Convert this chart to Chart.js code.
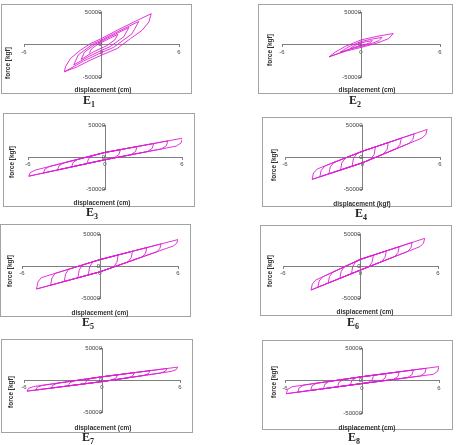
<!DOCTYPE html>
<html>
<head>
<meta charset="utf-8">
<script src="https://cdn.jsdelivr.net/npm/chart.js@4.4.1/dist/chart.umd.min.js"></script>
<style>
  body { margin: 0; background: #fff; width: 459px; height: 445px; position: relative; overflow: hidden; }
  .frame { position: absolute; border: 1px solid #a3a3a3; box-sizing: border-box; pointer-events: none; }
  canvas { position: absolute; }
  .xt, .yt { position: absolute; font-family: 'Liberation Sans', Arial, sans-serif; font-size: 6.5px; font-weight: bold; color: #333; white-space: nowrap; }
  .xt { transform: translate(-50%, -50%); }
  .yt { transform: translate(-50%, -50%) rotate(-90deg); }
  .cap { position: absolute; transform: translate(-50%, -50%); font-family: 'Liberation Serif', 'Times New Roman', serif; font-weight: bold; font-size: 12px; color: #222; white-space: nowrap; }
  .cap sub { font-size: 8px; }
</style>
</head>
<body>
<script>
// panels and axis labels
const panelNames = ['E1', 'E2', 'E3', 'E4', 'E5', 'E6', 'E7', 'E8'];
const xTitles = ['displacement (cm)', 'displacement (cm)', 'displacement (cm)', 'displacement (kgf)',
                 'displacement (cm)', 'displacement (cm)', 'displacement (cm)', 'displacement (cm)'];
const yTitle = 'force [kgf]';
const xTicks = [-6, 0, 6];
const yTicks = [-50000, 0, 50000];

const e1Disp = [-0.95, -0.79, -0.28, 0, 0.4, 1.27, 1.04, 0.4, 0, -0.62,
                -1.58, -1.32, -0.47, 0, 0.67, 2.12, 1.73, 0.67, 0, -1.03,
                -2.15, -1.8, -0.64, 0, 0.92, 2.89, 2.36, 0.92, 0, -1.41,
                -2.87, -2.79, -2.4, -1.63, -0.85, 0, 1.22, 2.77, 3.85, 3.67, 3.15, 2.25, 1.22, 0, -0.85, -1.88, -2.87];
const e1Force = [-13800, -7060, 500, 3040, 7230, 15640, 7230, -2010, -5410, -11300,
                 -23000, -11800, 830, 5060, 12000, 26100, 12000, -3360, -9000, -18900,
                 -31400, -16050, 1130, 6900, 16400, 35550, 16400, -4580, -12300, -25700,
                 -41900, -34300, -21400, -8700, 1500, 9200, 21900, 37200, 47400, 34600, 21900, 9200, -6100, -16400, -24000, -34300, -41900];

const e2Disp = [-0.85, -0.67, -0.42, 0, 0.42, 0.86, 0.74, 0.42, 0, -0.42,
                -1.6, -1.23, -0.78, 0, 0.78, 1.6, 1.37, 0.78, 0, -0.78,
                -2.42, -1.9, -1.2, 0, 1.2, 2.45, 2.1, 1.2, 0, -1.2, -2.42];
const e2Force = [-6600, -3850, -1050, 2450, 4400, 5900, 3150, 700, -1600, -3700,
                 -12300, -7150, -1950, 4550, 8100, 11000, 5850, 1300, -2900, -6800,
                 -18900, -11000, -3000, 7000, 12500, 16900, 9000, 2000, -4500, -10500, -18900];

const e3Disp = [-1.4, -1.28, -0.9, 0, 1.2, 1.08, 0.7, 0,
                -2.6, -2.48, -2.1, 0, 2.5, 2.38, 2.0, 0,
                -3.7, -3.58, -3.2, 0, 3.8, 3.68, 3.3, 0,
                -4.8, -4.68, -4.3, 0, 4.9, 4.78, 4.4, 0,
                -5.94, -5.82, -5.44, 0, 6.05, 5.93, 5.55, 0, -5.94];
const e3Force = [-10300, -2600, 2500, 7100, 11500, 3700, -1500, -4200,
                 -15500, -8300, -3500, 7100, 16300, 8600, 3400, -4200,
                 -20300, -13600, -9100, 7100, 21100, 13500, 8400, -4200,
                 -25000, -18800, -14700, 7100, 25200, 17600, 12600, -4200,
                 -30000, -24300, -20500, 7100, 29400, 22000, 17000, -4200, -30000];

const e4Disp = [-0.8, -0.7, -0.4, 0, 1.0, 0.9, 0.6, 0,
                -1.7, -1.6, -1.3, 0, 2.0, 1.9, 1.6, 0,
                -2.6, -2.5, -2.2, 0, 3.0, 2.9, 2.6, 0,
                -3.3, -3.2, -2.9, 0, 4.0, 3.9, 3.6, 0,
                -3.9, -3.8, -3.5, 0, 5.0, 4.9, 4.6, 0, -3.9];
const e4Force = [-14300, -2200, 5800, 9000, 15800, 3900, -4000, -9000,
                 -20300, -8900, -1300, 9000, 22600, 11700, 4400, -9000,
                 -26300, -15600, -8400, 9000, 29400, 19400, 12800, -9000,
                 -31000, -20700, -13900, 9000, 36200, 27200, 21200, -9000,
                 -35000, -25200, -18700, 9000, 43000, 35000, 29600, -9000, -35000];

const e5Disp = [-0.9, -0.8, -0.55, 0, 1.4, 1.3, 1.05, 0,
                -1.7, -1.6, -1.35, 0, 2.5, 2.4, 2.15, 0,
                -2.75, -2.65, -2.4, 0, 3.6, 3.5, 3.25, 0,
                -3.8, -3.7, -3.45, 0, 4.7, 4.6, 4.35, 0,
                -4.88, -4.78, -4.53, 0, 6.0, 5.9, 5.65, 0, -4.88];
const e5Force = [-14000, -1600, 6600, 10000, 17300, 6000, -1600, -9100,
                 -18400, -6400, 1600, 10000, 23000, 13000, 6300, -9100,
                 -24200, -12700, -5000, 10000, 28800, 20000, 14200, -9100,
                 -30000, -18900, -11500, 10000, 34500, 27000, 22000, -9100,
                 -35900, -25300, -18300, 10000, 41300, 35400, 31400, -9100, -35900];

const e6Disp = [-0.7, -0.6, -0.35, 0, 1.0, 0.9, 0.65, 0,
                -1.6, -1.5, -1.25, 0, 2.0, 1.9, 1.65, 0,
                -2.5, -2.4, -2.15, 0, 3.0, 2.9, 2.65, 0,
                -3.3, -3.2, -2.95, 0, 4.0, 3.9, 3.65, 0,
                -3.83, -3.73, -3.48, 0, 4.97, 4.87, 4.62, 0, -3.83];
const e6Force = [-12000, -500, 7100, 10400, 17000, 6100, -1100, -6250,
                 -19300, -8500, -1300, 10400, 23600, 13600, 6900, -6250,
                 -26700, -16500, -9700, 10400, 30200, 21000, 14800, -6250,
                 -33200, -23500, -17100, 10400, 36800, 28300, 22700, -6250,
                 -37500, -28300, -22100, 10400, 43200, 35500, 30400, -6250, -37500];

const e7Disp = [-1.3, -1.18, -0.8, 0, 1.2, 1.08, 0.7, 0,
                -2.6, -2.48, -2.1, 0, 2.5, 2.38, 2.0, 0,
                -3.9, -3.78, -3.4, 0, 3.7, 3.58, 3.2, 0,
                -5.1, -4.98, -4.6, 0, 5.0, 4.88, 4.5, 0,
                -5.77, -5.65, -5.27, 0, 5.82, 5.7, 5.32, 0, -5.77];
const e7Force = [-5900, -700, 2700, 5000, 8100, 3000, -400, -2500,
                 -9200, -4300, -1100, 5000, 11500, 6700, 3500, -2500,
                 -12600, -8000, -4900, 5000, 14600, 10000, 7000, -2500,
                 -15700, -11300, -8400, 5000, 18000, 13700, 10900, -2500,
                 -17400, -13100, -10300, 5000, 20100, 16100, 13400, -2500, -17400];

const e8Disp = [-0.9, -0.8, -0.45, 0, 0.9, 0.8, 0.45, 0,
                -1.9, -1.8, -1.45, 0, 1.9, 1.8, 1.45, 0,
                -3.0, -2.9, -2.55, 0, 2.9, 2.8, 2.45, 0,
                -4.0, -3.9, -3.55, 0, 4.0, 3.9, 3.55, 0,
                -5.0, -4.9, -4.55, 0, 5.0, 4.9, 4.55, 0,
                -5.9, -5.8, -5.45, 0, 6.0, 5.9, 5.55, 0, -5.9];
const e8Force = [-7100, -100, 4500, 5800, 8100, 1100, -3500, -4700,
                 -9700, -2900, 1700, 5800, 10700, 3700, -1000, -4700,
                 -12600, -5900, -1400, 5800, 13300, 6300, 1600, -4700,
                 -15300, -8600, -4200, 5800, 16200, 9100, 4400, -4700,
                 -17900, -11400, -7000, 5800, 18800, 11700, 6900, -4700,
                 -20300, -13900, -9600, 5800, 21400, 14300, 9500, -4700, -20300];

const dispSets = [e1Disp, e2Disp, e3Disp, e4Disp, e5Disp, e6Disp, e7Disp, e8Disp];
const forceSets = [e1Force, e2Force, e3Force, e4Force, e5Force, e6Force, e7Force, e8Force];

// page placement: frame [left, top, w, h], plot padding [l, r, t, b], title / caption centres
const layout = [
  { box: [1, 4, 191, 90],   pad: [23, 13, 8, 17],  xt: [103, 89],  yt: [7, 63],   cap: [89, 101] },
  { box: [258, 4, 195, 90], pad: [24, 13, 8, 17],  xt: [367, 89],  yt: [269, 50], cap: [355, 101] },
  { box: [3, 113, 192, 94], pad: [25, 13, 12, 18], xt: [102, 202], yt: [11, 162], cap: [92, 213] },
  { box: [262, 117, 190, 90], pad: [23, 12, 8, 18], xt: [362, 203], yt: [273, 165], cap: [361, 214] },
  { box: [0, 224, 191, 93], pad: [22, 13, 10, 19], xt: [100, 312], yt: [9, 271],  cap: [88, 323] },
  { box: [260, 225, 192, 91], pad: [23, 14, 9, 18], xt: [365, 311], yt: [269, 271], cap: [353, 323] },
  { box: [1, 339, 192, 94], pad: [23, 13, 9, 21],  xt: [103, 427], yt: [10, 392], cap: [88, 438] },
  { box: [262, 340, 191, 90], pad: [23, 14, 8, 17], xt: [367, 427], yt: [273, 382], cap: [354, 438] }
];

const lineColor = '#dc1fd4';
const axisColor = '#7f7f7f';
const tickFont = { family: "'Liberation Sans', Arial, sans-serif", size: 6 };

function el(tag, cls, css, html) {
  const e = document.createElement(tag);
  if (cls) e.className = cls;
  Object.assign(e.style, css);
  if (html !== undefined) e.innerHTML = html;
  document.body.appendChild(e);
  return e;
}

panelNames.forEach((name, i) => {
  const L = layout[i];
  const [bx, by, bw, bh] = L.box;

  const cv = el('canvas', '', { left: bx + 'px', top: by + 'px' });
  cv.width = bw;
  cv.height = bh;
  el('div', 'frame', { left: bx + 'px', top: by + 'px', width: bw + 'px', height: bh + 'px' });

  el('div', 'xt', { left: L.xt[0] + 'px', top: L.xt[1] + 'px' }, xTitles[i]);
  el('div', 'yt', { left: L.yt[0] + 'px', top: L.yt[1] + 'px' }, yTitle);
  el('div', 'cap', { left: L.cap[0] + 'px', top: L.cap[1] + 'px' }, name[0] + '<sub>' + name.slice(1) + '</sub>');

  const points = dispSets[i].map((x, k) => ({ x: x, y: forceSets[i][k] }));

  new Chart(cv, {
    type: 'scatter',
    data: {
      datasets: [{
        data: points,
        showLine: true,
        borderColor: lineColor,
        borderWidth: 0.9,
        pointRadius: 0,
        tension: 0,
        fill: false
      }]
    },
    options: {
      responsive: false,
      animation: false,
      devicePixelRatio: 1,
      layout: { padding: { left: L.pad[0], right: L.pad[1], top: L.pad[2], bottom: L.pad[3] } },
      plugins: { legend: { display: false }, tooltip: { enabled: false } },
      scales: {
        x: {
          type: 'linear', min: -6, max: 6,
          position: { y: 0 },
          afterFit: s => { s.height = 0; },
          afterBuildTicks: s => { s.ticks = xTicks.map(v => ({ value: v })); },
          grid: { drawOnChartArea: false, tickLength: 2, color: axisColor },
          border: { color: axisColor, width: 1 },
          ticks: { font: tickFont, color: '#444', padding: 2, autoSkip: false, maxRotation: 0 }
        },
        y: {
          type: 'linear', min: -50000, max: 50000,
          position: { x: 0 },
          afterFit: s => { s.width = 0; },
          afterBuildTicks: s => { s.ticks = yTicks.map(v => ({ value: v })); },
          grid: { drawOnChartArea: false, tickLength: 2, color: axisColor },
          border: { color: axisColor, width: 1 },
          ticks: { font: tickFont, color: '#444', padding: 3, autoSkip: false, callback: v => String(v) }
        }
      }
    }
  });
});
</script>
</body>
</html>
